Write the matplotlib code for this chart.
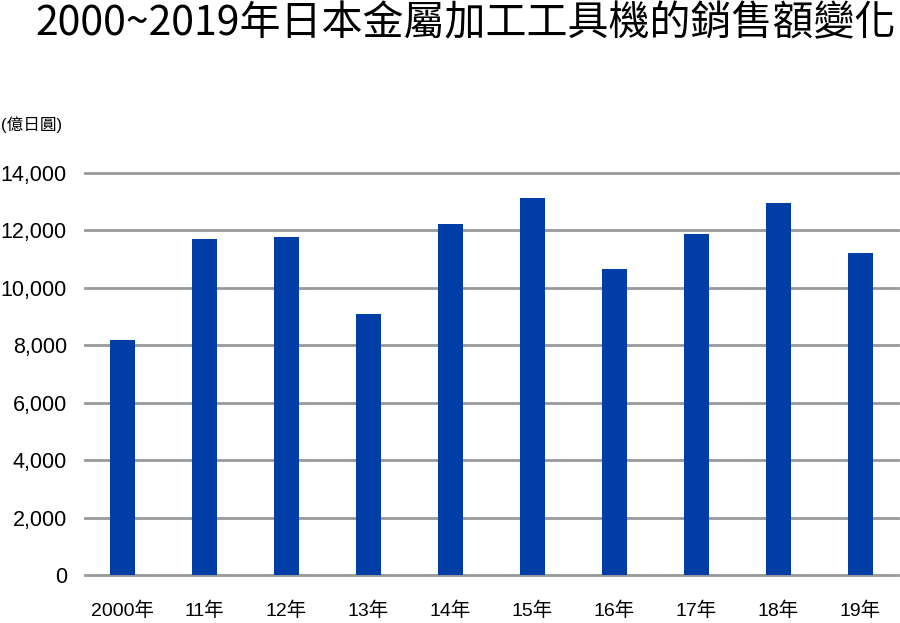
import matplotlib
matplotlib.use("Agg")
import matplotlib.pyplot as plt
import numpy as np

categories = ["2000年", "11年", "12年", "13年", "14年", "15年", "16年", "17年", "18年", "19年"]
values = [8200, 11700, 11760, 9090, 12240, 13130, 10640, 11870, 12950, 11210]
yticks = [0, 2000, 4000, 6000, 8000, 10000, 12000, 14000]

title = "2000~2019年日本金屬加工工具機的銷售額變化"
unit = "(億日圓)"

cjk = ["Noto Sans CJK TC", "DejaVu Sans"]
latin_cjk = ["Liberation Sans", "Noto Sans CJK TC", "DejaVu Sans"]

fig = plt.figure(figsize=(9, 6.23), dpi=100)
ax = fig.add_axes([85/900, 1-575/623, (898-85)/900, (575-173)/623])

x = np.arange(len(categories))
ax.bar(x, values, width=0.3, color="#003DA6", zorder=3)
ax.set_xlim(-0.46, len(categories) - 1 + 0.46)
ax.set_ylim(0, 14000)
ax.set_yticks(yticks)
ax.set_yticklabels([f"{v:,}" for v in yticks], family=["Liberation Sans"], fontsize=15.5)
ax.set_xticks(x)
ax.set_xticklabels(categories, family=latin_cjk, fontsize=14)
ax.tick_params(axis="both", length=0)
ax.tick_params(axis="y", pad=13)
ax.tick_params(axis="x", pad=19)
for v in yticks:
    ax.axhline(v, color="#999999", lw=2, zorder=1, clip_on=False)
for s in ax.spines.values():
    s.set_visible(False)

fig.text(466/900, 1-24/623, title, ha="center", va="center", fontsize=29.5,
         family=cjk, weight="medium")
fig.text(1/900, 1-125/623, unit, ha="left", va="center", fontsize=12, family=latin_cjk)

fig.savefig("out.png", dpi=100)
